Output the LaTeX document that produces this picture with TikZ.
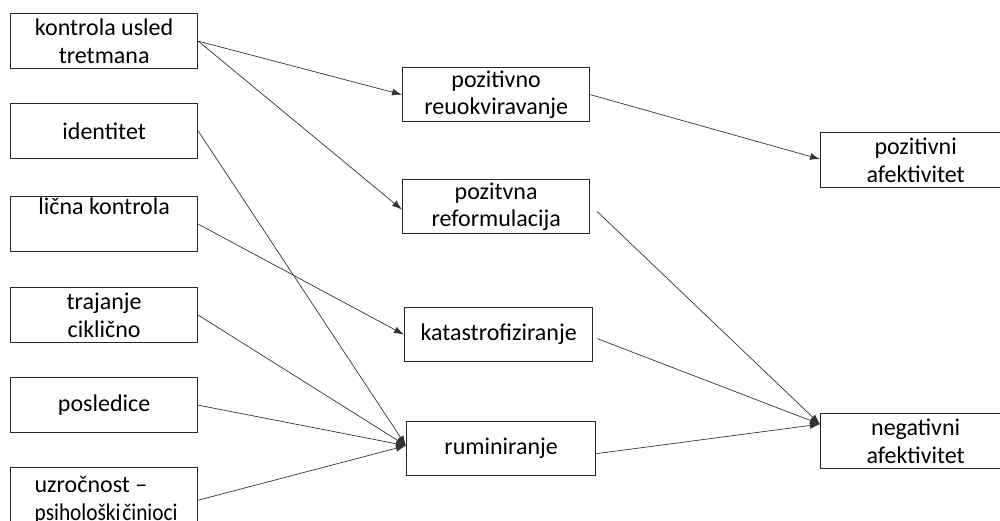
\documentclass[tikz,border=0pt]{standalone}
\usepackage{fontspec}
\setmainfont{Carlito}
\usetikzlibrary{calc,arrows.meta}
\begin{document}
\begin{tikzpicture}[x=1pt,y=-1pt,
  box/.style={draw=black!85, line width=1.3pt, rectangle, inner sep=0pt,
    anchor=north west, align=center, text=black,
    font=\fontsize{24}{27.5}\selectfont},
  leftbox/.style={box, minimum width=187pt, minimum height=55pt},
  midbox/.style={box, minimum width=187pt, minimum height=54pt},
  rightbox/.style={box, minimum width=190pt, minimum height=55pt},
  link/.style={draw=black!80, line width=0.7pt, -{Latex[length=10pt,width=7pt]}}]
\useasboundingbox (0,0) rectangle (1000,520);
\clip (0,0) rectangle (1000,520);

% predictors
\node[leftbox] (kon) at (10,13)  {kontrola usled\\tretmana};
\node[leftbox] (ide) at (10,103) {identitet};
\node[leftbox] (lic) at (10,196) {lična kontrola\\\strut};
\node[leftbox] (tra) at (10,287) {trajanje\\ciklično};
\node[leftbox] (pos) at (10,377) {posledice};
% this box runs past the lower edge; its second line is set tight
\node[leftbox, minimum height=65pt, align=left] (uzr) at (10,467)
  {\hspace{4pt}uzročnost –\\\hspace{4pt}\scalebox{0.89}[1]{psihološki\hspace{2pt}činioci}};

% coping strategies
\node[midbox] (pr)  at (402,67)  {pozitivno\\reuokviravanje};
\node[midbox] (pf)  at (402,179) {pozitvna\\reformulacija};
\node[midbox, minimum width=188pt] (kat) at (404,307) {katastrofiziranje};
\node[midbox, minimum width=189pt] (rum) at (406,421) {ruminiranje};

% outcomes (they run past the right edge)
\node[rightbox] (paf) at (820,132) {pozitivni\\afektivitet};
\node[rightbox] (naf) at (820,413) {negativni\\afektivitet};

% paths
\draw[link] (kon.east) -- (pr.west);
\draw[link] (kon.east) -- ($(pf.west)+(0,3)$);
\draw[link] (ide.east) -- ($(rum.west)+(0,-3)$);
\draw[link] (lic.east) -- (kat.west);
\draw[link] (tra.east) -- ($(rum.west)+(0,-3)$);
\draw[link] (pos.east) -- ($(rum.west)+(0,-3)$);
\draw[link] (uzr.east) -- ($(rum.west)+(0,-3)$);
\draw[link] (pr.east) -- ($(paf.west)+(0,-1)$);
\draw[link] ($(pf.east)+(7,5)$) -- ($(naf.west)+(0,-17)$);
\draw[link] ($(kat.east)+(4,4)$) -- ($(naf.west)+(0,-17)$);
\draw[link] ($(rum.east)+(0,5)$) -- ($(naf.west)+(0,-17)$);
\end{tikzpicture}
\end{document}
